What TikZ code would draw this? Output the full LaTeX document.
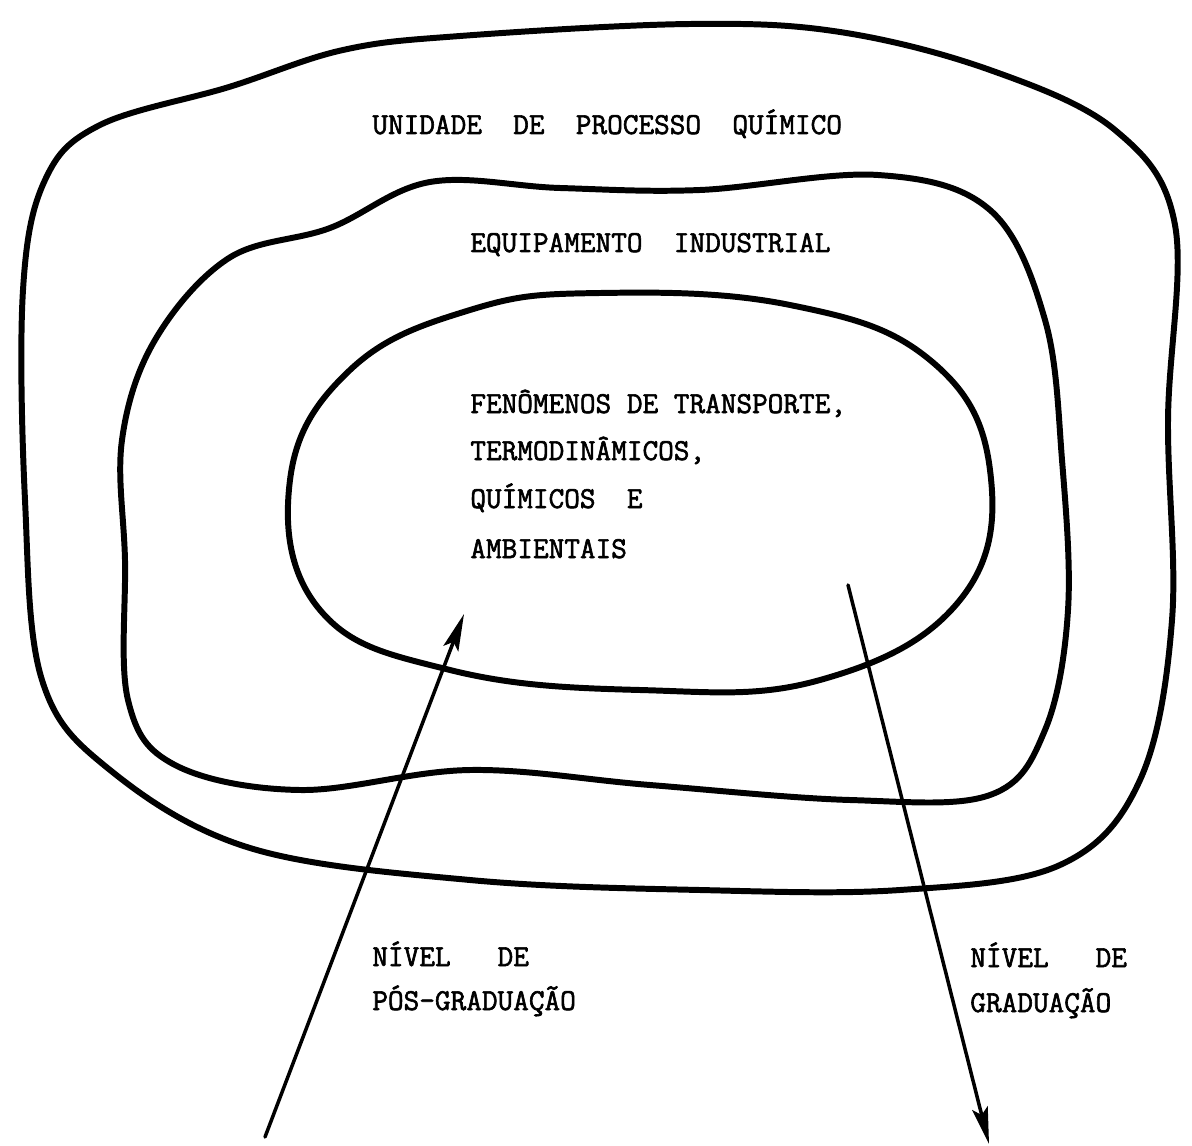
\documentclass[tikz,border=0pt]{standalone}
\usepackage{fontspec}
\setmonofont[FakeBold=2]{Latin Modern Mono}
\usetikzlibrary{arrows.meta}
\begin{document}
\begin{tikzpicture}[x=0.02cm, y=-0.02cm, font=\ttfamily\fontsize{17.3}{19}\selectfont, line join=round, line cap=round, >=stealth,
    blob/.style={line width=3.4pt},
    lbl/.style={anchor=base west, inner sep=0pt},
    levelarrow/.style={-{Stealth[length=21pt, width=9pt, inset=4pt]}, line width=2pt}]
    \useasboundingbox (0,0) rectangle (1192,1145);
    \draw[blob] plot[smooth cycle, tension=0.6] coordinates {(343,50) (460,36) (690,24) (840,32) (990,70) (1115,130) (1175,225) (1168,420) (1172,620) (1140,780) (1060,865) (900,890) (700,890) (470,880) (250,848) (110,770) (42,680) (25,500) (23,290) (45,180) (100,125) (229,87)};
    \draw[blob] plot[smooth cycle, tension=0.6] coordinates {(430,182) (560,188) (700,190) (878,175) (990,210) (1045,320) (1062,460) (1068,610) (1045,730) (990,795) (850,800) (650,785) (470,770) (300,790) (175,765) (128,700) (125,560) (122,440) (155,340) (229,258) (330,228)};
    \draw[blob] plot[smooth cycle, tension=0.7] coordinates {(600,293) (790,305) (930,360) (990,470) (960,600) (820,680) (640,690) (450,670) (320,610) (290,480) (350,370) (470,310)};
    \node[lbl] (unidade) at (372,134) {UNIDADE~~DE~~PROCESSO~~QUÍMICO};
    \node[lbl] (equip) at (470,252) {EQUIPAMENTO~~INDUSTRIAL};
    \node[lbl] (fen1) at (470,413) {FENÔMENOS DE TRANSPORTE,};
    \node[lbl] (fen2) at (470,460) {TERMODINÂMICOS,};
    \node[lbl] (fen3) at (470,508) {QUÍMICOS~~E};
    \node[lbl] (fen4) at (470,558) {AMBIENTAIS};
    \node[lbl] (pos1) at (372,966) {NÍVEL~~~DE};
    \node[lbl] (pos2) at (372,1010) {PÓS-GRADUAÇÃO};
    \node[lbl] (grad1) at (970,967) {NÍVEL~~~DE};
    \node[lbl] (grad2) at (970,1012) {GRADUAÇÃO};
    \coordinate (posstart) at (265,1137);
    \coordinate (posend) at (464,614);
    \coordinate (gradstart) at (848,585);
    \coordinate (gradend) at (989,1144);
    \draw[levelarrow] (posstart) -- (posend);
    \draw[levelarrow] (gradstart) -- (gradend);
\end{tikzpicture}
\end{document}
